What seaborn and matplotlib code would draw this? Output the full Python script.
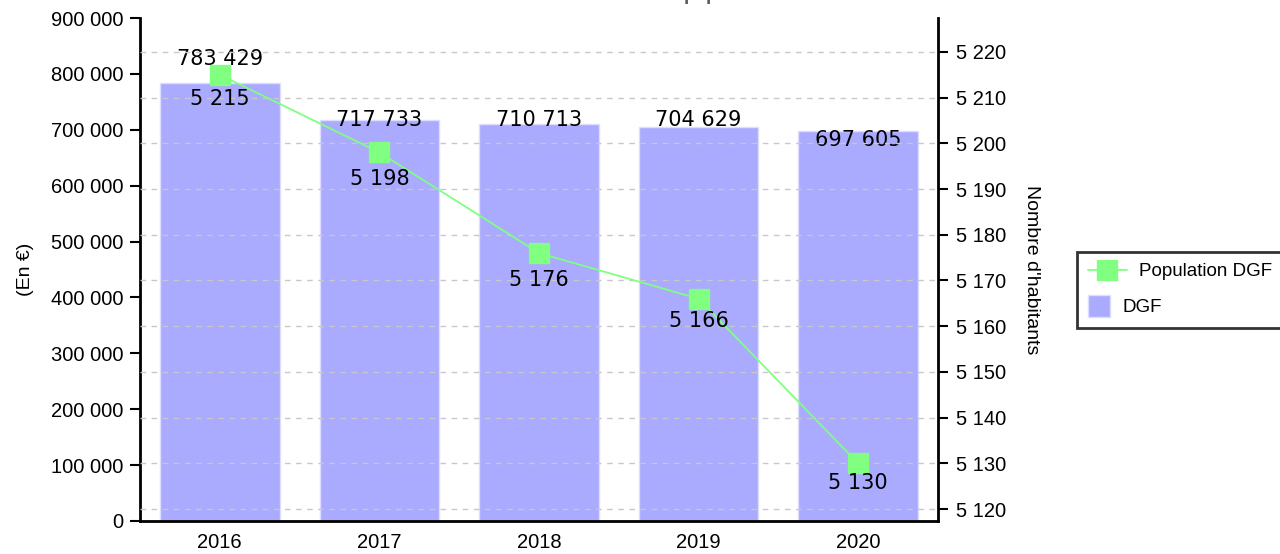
import matplotlib
matplotlib.use("Agg")
import matplotlib.pyplot as plt
import matplotlib.ticker as mticker
from matplotlib.lines import Line2D
from matplotlib.patches import Patch, Rectangle
from matplotlib.legend_handler import HandlerPatch
import seaborn as sns
import pandas as pd

years = ["2016", "2017", "2018", "2019", "2020"]
dgf = [783429, 717733, 710713, 704629, 697605]
population = [5215, 5198, 5176, 5166, 5130]

title = "Evolution de la DGF et de la population DGF"
left_label = "(En €)"
right_label = "Nombre d'habitants"
legend_labels = ["Population DGF", "DGF"]

bar_color = "#AAAAFF"
line_color = "#80FF80"

# label placement (baseline offsets in pixels, + = up), chosen to avoid overlaps
dgf_label_dy = [18, -6, -2, 1, -15]
pop_label_dy = [-30, -33, -33, -28, -26]

sns.set_theme(style="white")
plt.rcParams["font.family"] = ["Liberation Sans", "DejaVu Sans"]
plt.rcParams["text.color"] = "black"
plt.rcParams["axes.labelcolor"] = "black"
plt.rcParams["xtick.color"] = "black"
plt.rcParams["ytick.color"] = "black"

df = pd.DataFrame({"year": years, "dgf": dgf, "pop": population})

fig = plt.figure(figsize=(12.8, 5.54), dpi=100)
ax = fig.add_axes([140 / 1280, 1 - 521 / 554, 798 / 1280, 503 / 554])

sns.barplot(data=df, x="year", y="dgf", ax=ax, color=bar_color, saturation=1,
            width=0.75, edgecolor="#DDDDFF", linewidth=1, zorder=2)
ax.set_ylim(0, 900000)
ax.set_xlim(-0.5, len(years) - 0.5)

def fmt(v, pos=None):
    return f"{int(round(v)):,}".replace(",", " ")

ax.yaxis.set_major_locator(mticker.MultipleLocator(100000))
ax.yaxis.set_major_formatter(mticker.FuncFormatter(fmt))
ax.tick_params(axis="y", which="major", direction="out", length=7, width=1.5,
               colors="black", labelsize=14.5, left=True, pad=5)
ax.tick_params(axis="x", length=0, labelsize=14.5, pad=9, colors="black")
ax.set_xlabel("")
ax.set_ylabel(left_label, fontsize=14, labelpad=12, color="black")
for s in ["top", "right"]:
    ax.spines[s].set_visible(False)
for s in ["left", "bottom"]:
    ax.spines[s].set_color("black")
    ax.spines[s].set_linewidth(2)

PX = 72 / 100  # points per pixel
for i, v in enumerate(dgf):
    ax.annotate(fmt(v), xy=(i, v), xytext=(0, dgf_label_dy[i] * PX),
                textcoords="offset points", ha="center", va="baseline",
                fontsize=15, family="DejaVu Sans", color="black", zorder=5)

ax2 = ax.twinx()
ax2.set_ylim(5117.4, 5227.4)
ax2.yaxis.set_major_locator(mticker.MultipleLocator(10))
ax2.yaxis.set_major_formatter(mticker.FuncFormatter(fmt))
ax2.grid(axis="y", color="#C8C8C8", linestyle=(0, (4, 4)), linewidth=1)
ax2.set_axisbelow(True)
ax.set_zorder(0)
ax2.set_zorder(1)
ax2.patch.set_visible(False)

sns.pointplot(data=df, x="year", y="pop", ax=ax2, color=line_color,
              markers="s", markersize=13.7, linewidth=1.3, errorbar=None)
for coll in ax2.collections:
    coll.set_zorder(4)
ax2.set_xlim(-0.5, len(years) - 0.5)
ax2.set_xlabel("")
ax2.set_ylabel(right_label, rotation=-90, fontsize=14, labelpad=24, color="black")
ax2.tick_params(axis="y", direction="out", length=7, width=1.5, colors="black",
                labelsize=14.5, right=True, pad=6)
for s in ["top", "left", "bottom"]:
    ax2.spines[s].set_visible(False)
ax2.spines["right"].set_color("black")
ax2.spines["right"].set_linewidth(2)

for i, v in enumerate(population):
    ax2.annotate(fmt(v), xy=(i, v), xytext=(0, pop_label_dy[i] * PX),
                 textcoords="offset points", ha="center", va="baseline",
                 fontsize=15, family="DejaVu Sans", color="black", zorder=6)


def square_patch(legend, orig_handle, xdescent, ydescent, width, height, fontsize):
    s = height * 1.65
    return Rectangle((-xdescent, -ydescent + (height - s) / 2), s, s)


line_handle = Line2D([0], [0], color=line_color, marker="s", markersize=13.7,
                     linewidth=1.3)
bar_handle = Patch(facecolor=bar_color, edgecolor="#DDDDFF")
leg = fig.legend([line_handle, bar_handle], legend_labels, loc="upper left",
                 bbox_to_anchor=(1077 / 1280, 1 - 252 / 554), frameon=True,
                 fontsize=13.5, fancybox=False, borderpad=0.6, handlelength=2.05,
                 handletextpad=0.64, labelspacing=1.0, borderaxespad=0,
                 handler_map={Patch: HandlerPatch(patch_func=square_patch)})
leg.get_frame().set_edgecolor("black")
leg.get_frame().set_linewidth(2)
# DGF entry: narrower handle, so its text starts further left
try:
    rows = leg._legend_handle_box.get_children()[0].get_children()
    rows[1].sep = rows[1].sep - 12
except Exception:
    pass

fig.text(630 / 1280, 1 + 5 / 554, title, ha="center", va="center",
         fontsize=13, fontweight="bold", color="#555555")

fig.savefig("out.png", dpi=100)
